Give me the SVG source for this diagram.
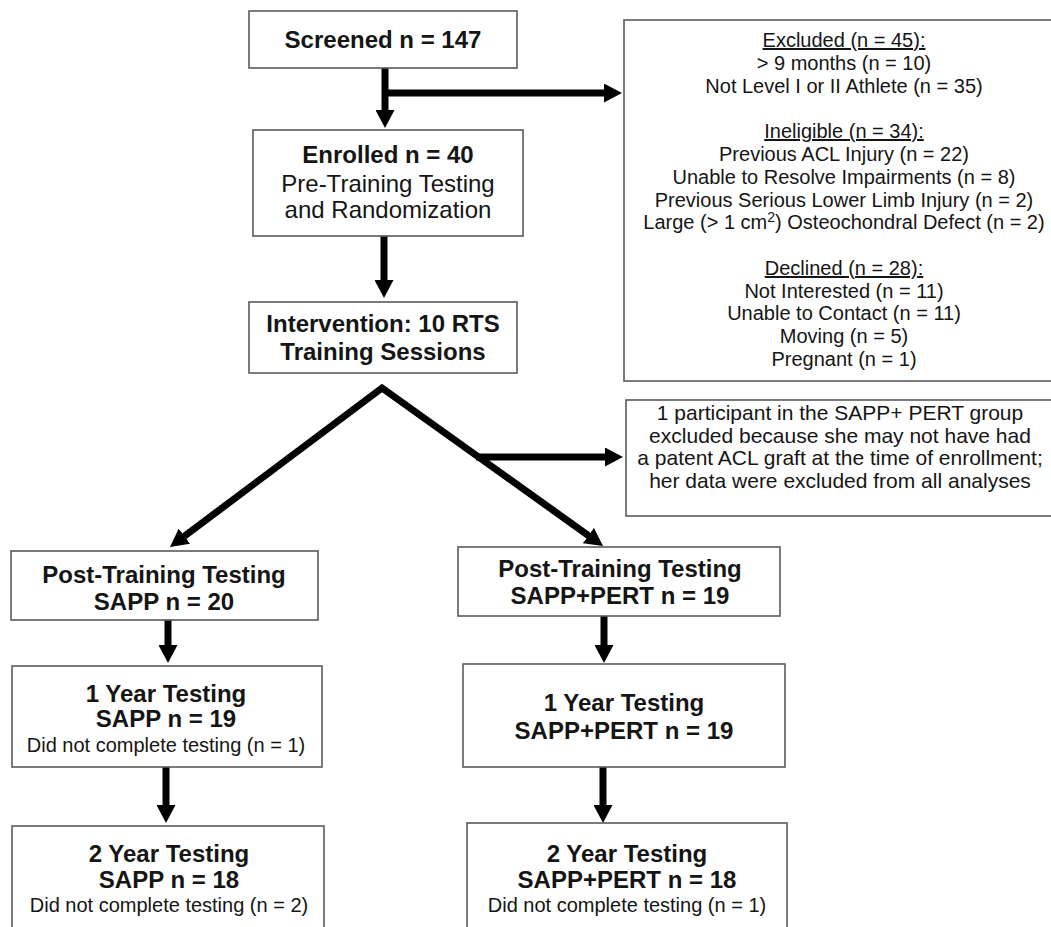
<svg xmlns="http://www.w3.org/2000/svg" width="1051" height="927" viewBox="0 0 1051 927">
<style>
.box{fill:#fff;stroke:#5a5a5a;stroke-width:1.6}
.t{font-family:"Liberation Sans",Arial,Helvetica,sans-serif;fill:#151515;text-anchor:middle}
.b{font-weight:bold;font-size:24px}
.r{font-size:24px}
.s{font-size:20px}
.n{font-size:21px}
.u{text-decoration:underline}
.arr{fill:none;stroke:#000;stroke-width:7;stroke-linejoin:miter;stroke-miterlimit:10}
</style>
<defs>
<marker id="ah" markerUnits="userSpaceOnUse" viewBox="0 0 18 19" markerWidth="18" markerHeight="19" refX="1" refY="9.5" orient="auto-start-reverse">
<path d="M0,0 L18,9.5 L0,19 Z" fill="#000"/>
</marker>
</defs>
<rect width="1051" height="927" fill="#fff"/>

<g id="connectors">
<path class="arr" d="M385,68 V111" marker-end="url(#ah)"/>
<path class="arr" d="M385,93 H605" marker-end="url(#ah)"/>
<path class="arr" d="M384,236 V281" marker-end="url(#ah)"/>
<path class="arr" d="M183.6,536.8 L382,388 L589.2,536.1" marker-start="url(#ah)" marker-end="url(#ah)"/>
<path class="arr" d="M476,457 H606" marker-end="url(#ah)"/>
<path class="arr" d="M168,620 V646" marker-end="url(#ah)"/>
<path class="arr" d="M166,767 V806" marker-end="url(#ah)"/>
<path class="arr" d="M604,616 V646" marker-end="url(#ah)"/>
<path class="arr" d="M603,767 V806" marker-end="url(#ah)"/>
</g>

<g id="screened">
<rect class="box" x="249" y="11" width="268" height="57"/>
<text class="t b" x="383" y="48">Screened n = 147</text>
</g>

<g id="excluded">
<rect class="box" x="624" y="20" width="445" height="361"/>
<g class="t s">
<text class="u" x="844" y="47">Excluded (n = 45):</text>
<text x="844" y="70">&gt; 9 months (n = 10)</text>
<text x="844" y="93">Not Level I or II Athlete (n = 35)</text>
<text class="u" x="844" y="138">Ineligible (n = 34):</text>
<text x="844" y="161">Previous ACL Injury (n = 22)</text>
<text x="844" y="184">Unable to Resolve Impairments (n = 8)</text>
<text x="844" y="207">Previous Serious Lower Limb Injury (n = 2)</text>
<text x="844" y="229">Large (&gt; 1 cm<tspan font-size="14" dy="-7">2</tspan><tspan dy="7">) Osteochondral Defect (n = 2)</tspan></text>
<text class="u" x="844" y="275">Declined (n = 28):</text>
<text x="844" y="298">Not Interested (n = 11)</text>
<text x="844" y="320">Unable to Contact (n = 11)</text>
<text x="844" y="343">Moving (n = 5)</text>
<text x="844" y="366">Pregnant (n = 1)</text>
</g>
</g>

<g id="enrolled">
<rect class="box" x="253" y="130" width="270" height="106"/>
<text class="t b" x="388" y="163">Enrolled n = 40</text>
<text class="t r" x="388" y="192">Pre-Training Testing</text>
<text class="t r" x="388" y="218">and Randomization</text>
</g>

<g id="intervention">
<rect class="box" x="249" y="302" width="268" height="71"/>
<text class="t b" x="383" y="332">Intervention: 10 RTS</text>
<text class="t b" x="383" y="360">Training Sessions</text>
</g>

<g id="note">
<rect class="box" x="626" y="400" width="445" height="116"/>
<g class="t n">
<text x="840" y="420">1 participant in the SAPP+ PERT group</text>
<text x="840" y="443">excluded because she may not have had</text>
<text x="840" y="465">a patent ACL graft at the time of enrollment;</text>
<text x="840" y="488">her data were excluded from all analyses</text>
</g>
</g>

<g id="post-sapp">
<rect class="box" x="11" y="551" width="307" height="69"/>
<text class="t b" x="164" y="583">Post-Training Testing</text>
<text class="t b" x="164" y="610">SAPP n = 20</text>
</g>

<g id="post-pert">
<rect class="box" x="458" y="547" width="322" height="69"/>
<text class="t b" x="620" y="577">Post-Training Testing</text>
<text class="t b" x="620" y="604">SAPP+PERT n = 19</text>
</g>

<g id="year1-sapp">
<rect class="box" x="12" y="666" width="310" height="101"/>
<text class="t b" x="166" y="702">1 Year Testing</text>
<text class="t b" x="166" y="727">SAPP n = 19</text>
<text class="t s" x="166" y="752">Did not complete testing (n = 1)</text>
</g>

<g id="year1-pert">
<rect class="box" x="463" y="664" width="322" height="103"/>
<text class="t b" x="624" y="711">1 Year Testing</text>
<text class="t b" x="624" y="739">SAPP+PERT n = 19</text>
</g>

<g id="year2-sapp">
<rect class="box" x="12" y="826" width="312" height="120"/>
<text class="t b" x="169" y="862">2 Year Testing</text>
<text class="t b" x="169" y="888">SAPP n = 18</text>
<text class="t s" x="169" y="912">Did not complete testing (n = 2)</text>
</g>

<g id="year2-pert">
<rect class="box" x="467" y="823" width="320" height="120"/>
<text class="t b" x="627" y="862">2 Year Testing</text>
<text class="t b" x="627" y="888">SAPP+PERT n = 18</text>
<text class="t s" x="627" y="912">Did not complete testing (n = 1)</text>
</g>
</svg>
